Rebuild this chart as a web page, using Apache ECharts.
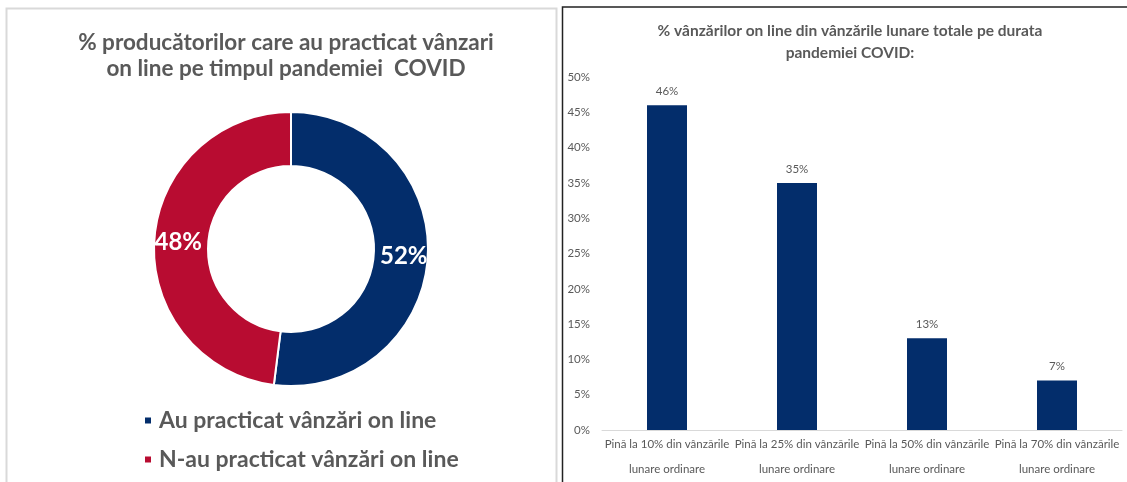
<!DOCTYPE html>
<html>
<head>
<meta charset="utf-8">
<script src="https://cdn.jsdelivr.net/npm/echarts@6/dist/echarts.min.js"></script>
<style>
  html, body { margin: 0; padding: 0; background: #ffffff; }
  #main { width: 1127px; height: 482px; }
</style>
</head>
<body>
<div id="main"></div>
<script>
// donut: producers selling online
var pieNames = ['Au practicat vânzări on line', 'N-au practicat vânzări on line'];
var pieValues = [52, 48];
var pieColors = ['#032d6b', '#b80c31'];

// bars: share of online sales in monthly total
var barCategories = [
  'Pină la 10% din vânzările\nlunare ordinare',
  'Pină la 25% din vânzările\nlunare ordinare',
  'Pină la 50% din vânzările\nlunare ordinare',
  'Pină la 70% din vânzările\nlunare ordinare'
];
var barValues = [46, 35, 13, 7];

var chart = echarts.init(document.getElementById('main'), null, { renderer: 'canvas' });

var font = 'Lato, "Open Sans", sans-serif';

var option = {
  backgroundColor: '#ffffff',
  animation: false,
  textStyle: { fontFamily: font },
  graphic: [
    {
      type: 'rect',
      shape: { x: 6.5, y: 8.5, width: 550, height: 480 },
      style: { fill: 'none', stroke: '#d9d9d9', lineWidth: 2 },
      silent: true
    },
    {
      type: 'rect',
      shape: { x: 562.5, y: 7, width: 570, height: 480 },
      style: { fill: 'none', stroke: '#222', lineWidth: 1.5 },
      silent: true
    }
  ],
  title: [
    {
      text: '% producătorilor care au practicat vânzari\non line pe timpul pandemiei  COVID',
      left: 281,
      top: 25,
      textAlign: 'center',
      textStyle: { fontSize: 22.5, fontWeight: 'bold', color: '#595959', lineHeight: 26, fontFamily: font }
    },
    {
      text: '% vânzărilor on line din vânzările lunare totale pe durata\npandemiei COVID:',
      left: 845,
      top: 15,
      textAlign: 'center',
      textStyle: { fontSize: 15.5, fontWeight: 'bold', color: '#595959', lineHeight: 22, fontFamily: font }
    }
  ],
  legend: {
    orient: 'vertical',
    left: 138,
    top: 404,
    itemGap: 16,
    itemWidth: 8,
    itemHeight: 8,
    icon: 'rect',
    data: pieNames,
    textStyle: { fontSize: 23, fontWeight: 'bold', color: '#595959', fontFamily: font, padding: [0, 0, 0, 2] }
  },
  grid: {
    left: 602,
    right: 5,
    top: 77,
    bottom: 51
  },
  xAxis: {
    type: 'category',
    data: barCategories,
    axisLine: { lineStyle: { color: '#d9d9d9', width: 1 } },
    axisTick: { show: false },
    axisLabel: { interval: 0, color: '#595959', fontSize: 11.5, lineHeight: 25, margin: 2, fontFamily: font }
  },
  yAxis: {
    type: 'value',
    min: 0,
    max: 50,
    interval: 5,
    axisLine: { show: false },
    axisTick: { show: false },
    splitLine: { show: false },
    axisLabel: { formatter: '{value}%', color: '#595959', fontSize: 11.5, margin: 12, fontFamily: font }
  },
  series: [
    {
      type: 'pie',
      center: [291, 249],
      radius: [83, 137],
      startAngle: 90,
      clockwise: true,
      color: pieColors,
      itemStyle: { borderColor: '#ffffff', borderWidth: 2 },
      label: {
        position: 'inside',
        formatter: '{c}%',
        color: '#ffffff',
        fontSize: 24,
        fontWeight: 'bold',
        fontFamily: font
      },
      labelLine: { show: false },
      data: pieNames.map(function (n, i) { return { name: n, value: pieValues[i] }; })
    },
    {
      type: 'bar',
      data: barValues,
      barWidth: 40,
      itemStyle: { color: '#032d6b' },
      label: {
        show: true,
        position: 'top',
        distance: 8,
        formatter: '{c}%',
        color: '#595959',
        fontSize: 11.5,
        fontFamily: font
      }
    }
  ]
};

chart.setOption(option);
</script>
</body>
</html>
